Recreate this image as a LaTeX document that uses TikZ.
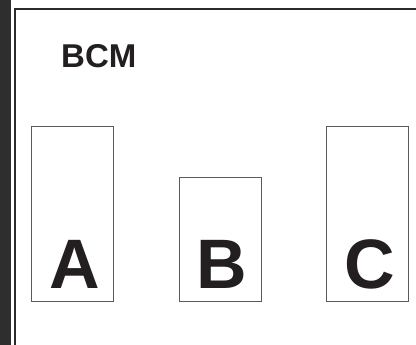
\documentclass[tikz,border=0pt]{standalone}
\usepackage{fontspec}
\setmainfont{Liberation Sans}
\usetikzlibrary{positioning}
\definecolor{bcmink}{HTML}{231F20}
\definecolor{bcmframe}{HTML}{2B2B2B}
\definecolor{bcmedge}{HTML}{5A5A5A}
\definecolor{bcmstrip}{HTML}{2E2E2E}

\begin{document}
\begin{tikzpicture}[
  x=1pt, y=1pt,
  bin/.style={rectangle, draw=bcmedge, line width=0.9pt, fill=white,
              minimum width=82pt, inner sep=0pt, anchor=south west},
  letter/.style={font=\fontsize{70}{70}\selectfont\bfseries, text=bcmink, inner sep=0pt},
  title/.style={font=\fontsize{33}{33}\selectfont\bfseries, text=bcmink, inner sep=0pt, anchor=base west}
]
\useasboundingbox (0,0) rectangle (416,345);
\fill[bcmstrip] (0,0) rectangle (11,345);
\draw[bcmframe, line width=2pt] (15,-5) -- (15,336) -- (420,336);

\node[title] (bcm) at (61,277) {BCM};

\node[bin, minimum height=175pt] (boxa) at (31,43) {};
\node[bin, minimum height=124pt] (boxb) at (178.5,43) {};
\node[bin, minimum height=175pt] (boxc) at (326,43) {};

\node[letter, above=13pt of boxa.south, xshift=2pt] (la) {A};
\node[letter, above=13pt of boxb.south, xshift=2pt] (lb) {B};
\node[letter, above=13pt of boxc.south, xshift=2pt] (lc) {C};
\end{tikzpicture}
\end{document}
